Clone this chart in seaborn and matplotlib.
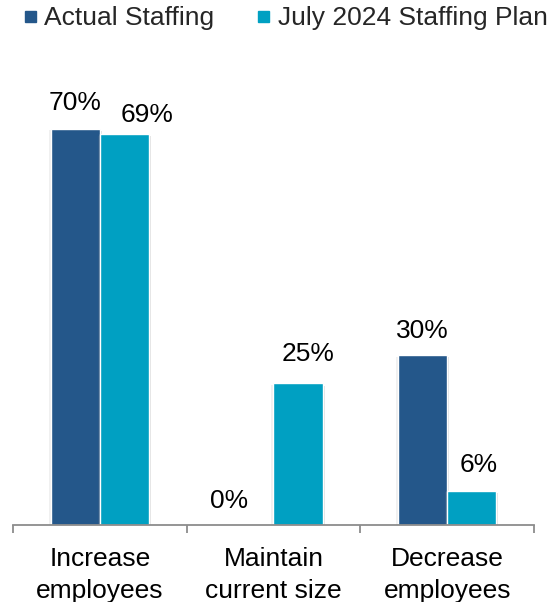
import matplotlib
matplotlib.use("Agg")
import matplotlib.pyplot as plt
import matplotlib.patheffects as pe
from matplotlib.lines import Line2D
import pandas as pd
import seaborn as sns

# Survey categories and shares (%)
categories = ["Increase\nemployees", "Maintain\ncurrent size", "Decrease\nemployees"]
series_names = ["Actual Staffing", "July 2024 Staffing Plan"]
actual = [70, 0, 30]
plan = [69, 25, 6]

colors = ["#24578A", "#00A0C2"]

# Label nudges in pixels (dx, dy above bar top), per series and category
label_nudge = {
    "Actual Staffing": [(0, 19), (-20, 17), (0, 17)],
    "July 2024 Staffing Plan": [(23, 12.5), (10, 22), (7, 19)],
}

df = pd.DataFrame({
    "category": categories * 2,
    "series": [series_names[0]] * 3 + [series_names[1]] * 3,
    "value": actual + plan,
})

sns.set_theme(style="white")
plt.rcParams["font.family"] = ["Liberation Sans", "DejaVu Sans"]

DPI = 100
W, H = 559, 602
fig = plt.figure(figsize=(W / DPI, H / DPI), dpi=DPI)

# Axes placed in pixel terms: baseline at y=525, spanning x 13..534
left, right, base, top = 13, 534, 525, 72
ax = fig.add_axes([left / W, 1 - base / H, (right - left) / W, (base - top) / H])

sns.barplot(
    data=df, x="category", y="value", hue="series",
    order=categories, hue_order=series_names, palette=colors,
    width=0.565, gap=0, edgecolor="white", linewidth=1.0,
    legend=False, ax=ax, saturation=1,
)

shadow = [pe.SimplePatchShadow(offset=(1.5, -1.5), shadow_rgbFace="#888888", alpha=0.25),
          pe.SimplePatchShadow(offset=(-1.5, -1.0), shadow_rgbFace="#888888", alpha=0.12),
          pe.Normal()]

px2pt = 72 / DPI
for container, name in zip(ax.containers, series_names):
    vals = actual if name == series_names[0] else plan
    for bar, v, (dx, dy) in zip(container.patches, vals, label_nudge[name]):
        bar.set_path_effects(shadow)
        cx = bar.get_x() + bar.get_width() / 2
        ax.annotate(f"{v}%", xy=(cx, v), xytext=(dx * px2pt, dy * px2pt),
                    textcoords="offset points", ha="center", va="baseline",
                    fontsize=19, color="black")

ax.set_ylim(0, 80)
ax.set_xlim(-0.5, 2.5)
ax.set_xlabel("")
ax.set_ylabel("")
ax.set_yticks([])
for s in ["top", "right", "left"]:
    ax.spines[s].set_visible(False)
ax.spines["bottom"].set_color("#8C8C8C")
ax.spines["bottom"].set_linewidth(1.3)

ax.set_xticks([0, 1, 2])
ax.set_xticklabels(categories, fontsize=19, color="black", linespacing=1.4)
ax.tick_params(axis="x", which="major", length=0, pad=16)
ax.set_xticks([-0.5, 0.5, 1.5, 2.5], minor=True)
ax.tick_params(axis="x", which="minor", length=5.5, width=1.3, color="#8C8C8C",
               direction="out", bottom=True)

handles = [Line2D([], [], marker="s", linestyle="none", markersize=11 * px2pt,
                  markerfacecolor=c, markeredgecolor=c) for c in colors]
fig.legend(handles, series_names, loc="upper left",
           bbox_to_anchor=(23 / W, 1 - 6 / H), ncol=2, frameon=False,
           fontsize=19, borderaxespad=0, borderpad=0, handlelength=0.5,
           handletextpad=0.3, columnspacing=1.6)

fig.savefig("out.png", dpi=DPI, facecolor="white")
